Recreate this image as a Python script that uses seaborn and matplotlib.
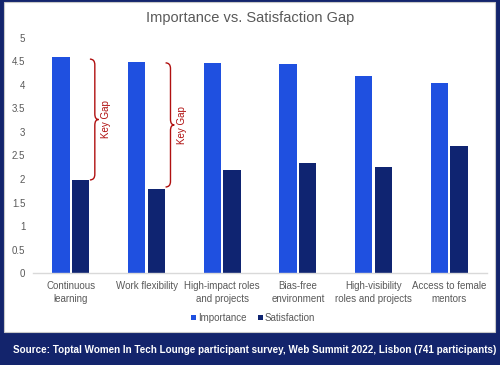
import matplotlib
matplotlib.use("Agg")
import matplotlib.pyplot as plt
import seaborn as sns
import pandas as pd
from matplotlib.path import Path
from matplotlib.patches import PathPatch, Rectangle

categories = ["Continuous\nlearning", "Work flexibility", "High-impact roles\nand projects",
              "Bias-free\nenvironment", "High-visibility\nroles and projects", "Access to female\nmentors"]
importance = [4.6, 4.49, 4.47, 4.45, 4.2, 4.05]
satisfaction = [1.98, 1.78, 2.19, 2.34, 2.25, 2.7]
series = ["Importance", "Satisfaction"]
yticks = [0, 0.5, 1, 1.5, 2, 2.5, 3, 3.5, 4, 4.5, 5]
ytick_labels = ["0", "0.5", "1", "1.5", "2", "2.5", "3", "3.5", "4", "4.5", "5"]
title = "Importance vs. Satisfaction Gap"
source = "Source: Toptal Women In Tech Lounge participant survey, Web Summit 2022, Lisbon (741 participants)"
gap_label = "Key Gap"
# braces: (category index, top value, bottom value)
braces = [(0, 4.55, 1.98), (1, 4.47, 1.83)]

NAVY = "#13246c"
BLUE_I = "#1f50e0"
BLUE_S = "#0f2471"
GRAY = "#595959"
RED = "#b01010"

sns.set_theme(style="white")
plt.rcParams["font.family"] = ["Liberation Sans", "DejaVu Sans"]

df = pd.DataFrame({
    "category": categories * 2,
    "value": importance + satisfaction,
    "series": [series[0]] * len(categories) + [series[1]] * len(categories),
})

fig = plt.figure(figsize=(5, 3.65), dpi=100, facecolor=NAVY)
fig.patches.append(Rectangle((0.008, 0.0904), 0.982, 0.904, transform=fig.transFigure,
                             facecolor="white", edgecolor="#c8c8c8", linewidth=0.8, zorder=-5))

ax = fig.add_axes([0.066, 0.252, 0.908, 0.644])
ax.set_zorder(2)
ax.set_facecolor("none")
sns.barplot(data=df, x="category", y="value", hue="series", order=categories,
            hue_order=series, palette=[BLUE_I, BLUE_S], width=0.52, gap=0.13,
            saturation=1, linewidth=0, ax=ax, legend=True)
ax.set_ylim(0, 5)
ax.set_xlim(-0.5, len(categories) - 0.5)
ax.set_yticks(yticks)
ax.set_yticklabels(ytick_labels)
ax.set_xlabel("")
ax.set_ylabel("")
for s in ["top", "right", "left"]:
    ax.spines[s].set_visible(False)
ax.spines["bottom"].set_color("#d9d9d9")
ax.spines["bottom"].set_linewidth(1.0)
ax.tick_params(axis="both", length=0, colors=GRAY, labelsize=7)
ax.tick_params(axis="y", pad=5.5)
ax.tick_params(axis="x", pad=6)
for t in ax.get_xticklabels():
    t.set_linespacing(1.3)

leg = ax.legend(loc="center", bbox_to_anchor=(0.506, 0.129), bbox_transform=fig.transFigure,
                ncol=2, frameon=False, fontsize=7, handlelength=0.55, handleheight=0.55,
                handletextpad=0.15, columnspacing=1.2)
for t in leg.get_texts():
    t.set_color(GRAY)

fig.text(0.5, 0.951, title, ha="center", va="center", fontsize=10.5, color=GRAY)
fig.text(0.509, 0.041, source, ha="center", va="center", fontsize=7.15,
         fontweight="bold", color="white")

# Key Gap braces
def brace(ax, xc, ytop, ybot):
    x0 = xc + 0.317
    dxl = 0.065
    dxr = 0.05
    r = 0.12
    ym = (ytop + ybot) / 2
    verts = [
        (x0 - dxl, ytop), (x0, ytop), (x0, ytop - r),
        (x0, ym + r), (x0, ym), (x0 + dxr, ym),
        (x0, ym), (x0, ym - r),
        (x0, ybot + r), (x0, ybot), (x0 - dxl, ybot),
    ]
    codes = [Path.MOVETO, Path.CURVE3, Path.CURVE3,
             Path.LINETO, Path.CURVE3, Path.CURVE3,
             Path.CURVE3, Path.CURVE3,
             Path.LINETO, Path.CURVE3, Path.CURVE3]
    ax.add_patch(PathPatch(Path(verts, codes), facecolor="none", edgecolor=RED,
                           linewidth=1.0, clip_on=False))
    ax.text(xc + 0.47, ym, gap_label, rotation=90, ha="center", va="center",
            fontsize=7, color=RED)

for idx, top, bot in braces:
    brace(ax, idx, top, bot)

fig.savefig("out.png", dpi=100, facecolor=NAVY)
